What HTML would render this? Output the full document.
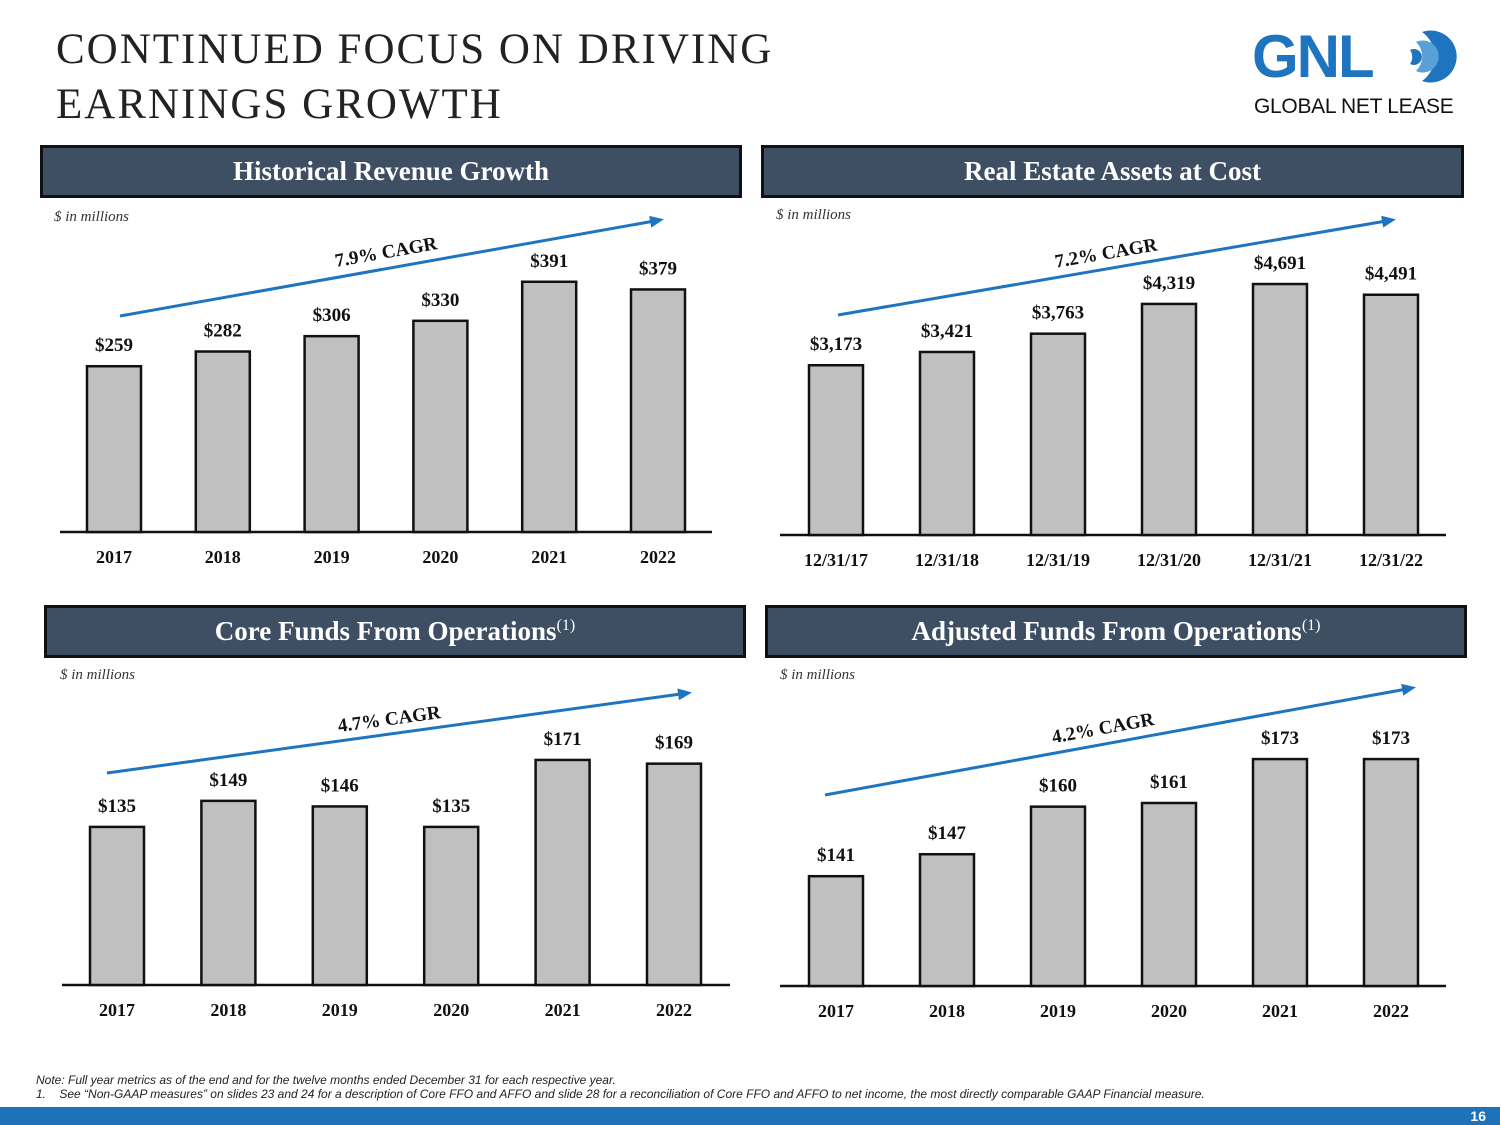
<!DOCTYPE html>
<html><head><meta charset="utf-8">
<style>
body{margin:0;width:1500px;height:1125px;background:#fff;position:relative;overflow:hidden;font-family:"Liberation Serif",serif;}
.title{position:absolute;left:56px;top:22px;font-size:43px;line-height:55px;color:#222;letter-spacing:2px;}
.hdr{position:absolute;height:47px;background:#3e4e63;border:3px solid #111;color:#fff;font-size:27px;font-weight:bold;text-align:center;line-height:47px;box-sizing:content-box;white-space:nowrap;}
.hdr sup{font-size:16px;font-weight:normal;line-height:0;vertical-align:10px;}
.unit{position:absolute;font-style:italic;font-size:15px;color:#333;}
svg text{font-family:"Liberation Serif",serif;}
</style></head><body>
<div class="title">CONTINUED FOCUS ON DRIVING<br>EARNINGS GROWTH</div>
<div style="position:absolute;left:1252px;top:22px;width:215px;height:100px;">
 <div style="position:absolute;left:0;top:0;font-family:'Liberation Sans',sans-serif;font-weight:bold;font-size:60px;color:#1f74bf;letter-spacing:-2px;line-height:70px;">GNL</div>
 <svg style="position:absolute;left:150px;top:2px" width="65" height="65" viewBox="0 0 65 65"><path d="M20 8 A26 26 0 1 1 20 57 A30 30 0 0 0 20 8Z" fill="#1f74bf"/><path d="M14 18 A16 16 0 1 1 14 47 A20 20 0 0 0 14 18Z" fill="#5aa0d8"/><path d="M8 26 A8 8 0 1 1 8 40 A12 12 0 0 0 8 26Z" fill="#1f74bf"/></svg>
 <div style="position:absolute;left:2px;top:73px;font-family:'Liberation Sans',sans-serif;font-size:21px;color:#111;white-space:nowrap;letter-spacing:-0.3px;">GLOBAL NET LEASE</div>
</div>

<div class="hdr" style="left:40px;top:145px;width:696px;">Historical Revenue Growth</div>
<div class="hdr" style="left:761px;top:145px;width:697px;">Real Estate Assets at Cost</div>
<div class="hdr" style="left:44px;top:605px;width:696px;">Core Funds From Operations<sup>(1)</sup></div>
<div class="hdr" style="left:765px;top:605px;width:696px;">Adjusted Funds From Operations<sup>(1)</sup></div>

<div class="unit" style="left:54px;top:209px;">$ in millions</div>
<div class="unit" style="left:776px;top:207px;">$ in millions</div>
<div class="unit" style="left:60px;top:667px;">$ in millions</div>
<div class="unit" style="left:780px;top:667px;">$ in millions</div>

<svg id="charts" width="1500" height="1125" style="position:absolute;left:0;top:0">
<defs><marker id="ah" markerUnits="userSpaceOnUse" markerWidth="14" markerHeight="12" refX="10" refY="6" orient="auto"><path d="M0,0 L14,6 L0,12Z" fill="#1f74bf"/></marker></defs>
</svg>

<div style="position:absolute;left:36px;top:1073px;font-family:'Liberation Sans',sans-serif;font-style:italic;font-size:12px;color:#222;line-height:14px;white-space:nowrap;">Note: Full year metrics as of the end and for the twelve months ended December 31 for each respective year.<br>1.&nbsp;&nbsp;&nbsp;&nbsp;See “Non-GAAP measures” on slides 23 and 24 for a description of Core FFO and AFFO and slide 28 for a reconciliation of Core FFO and AFFO to net income, the most directly comparable GAAP Financial measure.</div>
<div style="position:absolute;left:0;top:1107px;width:1500px;height:18px;background:#1f72b8;"></div>
<div style="position:absolute;right:14px;top:1107px;font-family:'Liberation Sans',sans-serif;font-weight:bold;font-size:14px;color:#fff;line-height:18px;">16</div>

<script>
const revCats=['2017','2018','2019','2020','2021','2022'];
const revVals=[259,282,306,330,391,379];
const revLabels=['$259','$282','$306','$330','$391','$379'];
const assetCats=['12/31/17','12/31/18','12/31/19','12/31/20','12/31/21','12/31/22'];
const assetVals=[3173,3421,3763,4319,4691,4491];
const assetLabels=['$3,173','$3,421','$3,763','$4,319','$4,691','$4,491'];
const coreCats=['2017','2018','2019','2020','2021','2022'];
const coreVals=[135,149,146,135,171,169];
const coreLabels=['$135','$149','$146','$135','$171','$169'];
const affoCats=['2017','2018','2019','2020','2021','2022'];
const affoVals=[141,147,160,161,173,173];
const affoLabels=['$141','$147','$160','$161','$173','$173'];
const cagrTexts=['7.9% CAGR','7.2% CAGR','4.7% CAGR','4.2% CAGR'];

const svg=document.getElementById('charts');
const NS='http://www.w3.org/2000/svg';
function mk(tag,attrs){const e=document.createElementNS(NS,tag);for(const k in attrs)e.setAttribute(k,attrs[k]);svg.appendChild(e);return e;}
function chart(id,cats,vals,labels,cfg){
  const n=cats.length;
  const x=i=>cfg.x0+i*cfg.step;
  const y=v=>cfg.base-(v-cfg.min)*cfg.k;
  const ax=mk('line',{x1:cfg.ax0,x2:cfg.ax1,y1:cfg.base,y2:cfg.base,stroke:'#111','stroke-width':2.5});
  
  
  for(let i=0;i<n;i++){
    const top=y(vals[i]);
    const r=mk('rect',{x:x(i)-27,y:top,width:54,height:cfg.base-top,fill:'#c0c0c0',stroke:'#111','stroke-width':2.5});
    
    
    const t=mk('text',{x:x(i),y:top-15,'text-anchor':'middle','font-size':19,'font-weight':'bold',fill:'#111'});
    t.textContent=labels[i];
    
    
    const c=mk('text',{x:x(i),y:cfg.base+31,'text-anchor':'middle','font-size':18,'font-weight':'bold',fill:'#111'});
    c.textContent=cats[i];
    
    
  }
  const a=cfg.arrow;
  const l=mk('line',{x1:a[0],y1:a[1],x2:a[2],y2:a[3],stroke:'#1f74bf','stroke-width':3,'marker-end':'url(#ah)'});
  
  
  const ang=Math.atan2(a[3]-a[1],a[2]-a[0])*180/Math.PI;
  const ct=mk('text',{x:cfg.cagr[0],y:cfg.cagr[1],'text-anchor':'middle','font-size':19,'font-weight':'bold',fill:'#111',transform:`rotate(${ang} ${cfg.cagr[0]} ${cfg.cagr[1]})`});
  ct.textContent=cfg.cagrText;
  
  
}
chart('revenue',revCats,revVals,revLabels,{x0:114,step:108.8,base:532,min:0,k:0.64,ax0:60,ax1:712,arrow:[120,316,660,220],cagr:[387,258],cagrText:cagrTexts[0]});
chart('assets',assetCats,assetVals,assetLabels,{x0:836,step:111,base:535,min:0,k:0.0535,ax0:780,ax1:1446,arrow:[838,315,1392,220],cagr:[1107,259],cagrText:cagrTexts[1]});
chart('core-ffo',coreCats,coreVals,coreLabels,{x0:117,step:111.4,base:985,min:50,k:1.86,ax0:62,ax1:730,arrow:[107,773,688,693],cagr:[390,725],cagrText:cagrTexts[2]});
chart('affo',affoCats,affoVals,affoLabels,{x0:836,step:111,base:986,min:111,k:3.66,ax0:780,ax1:1446,arrow:[825,795,1412,688],cagr:[1104,734],cagrText:cagrTexts[3]});
</script>
</body></html>
